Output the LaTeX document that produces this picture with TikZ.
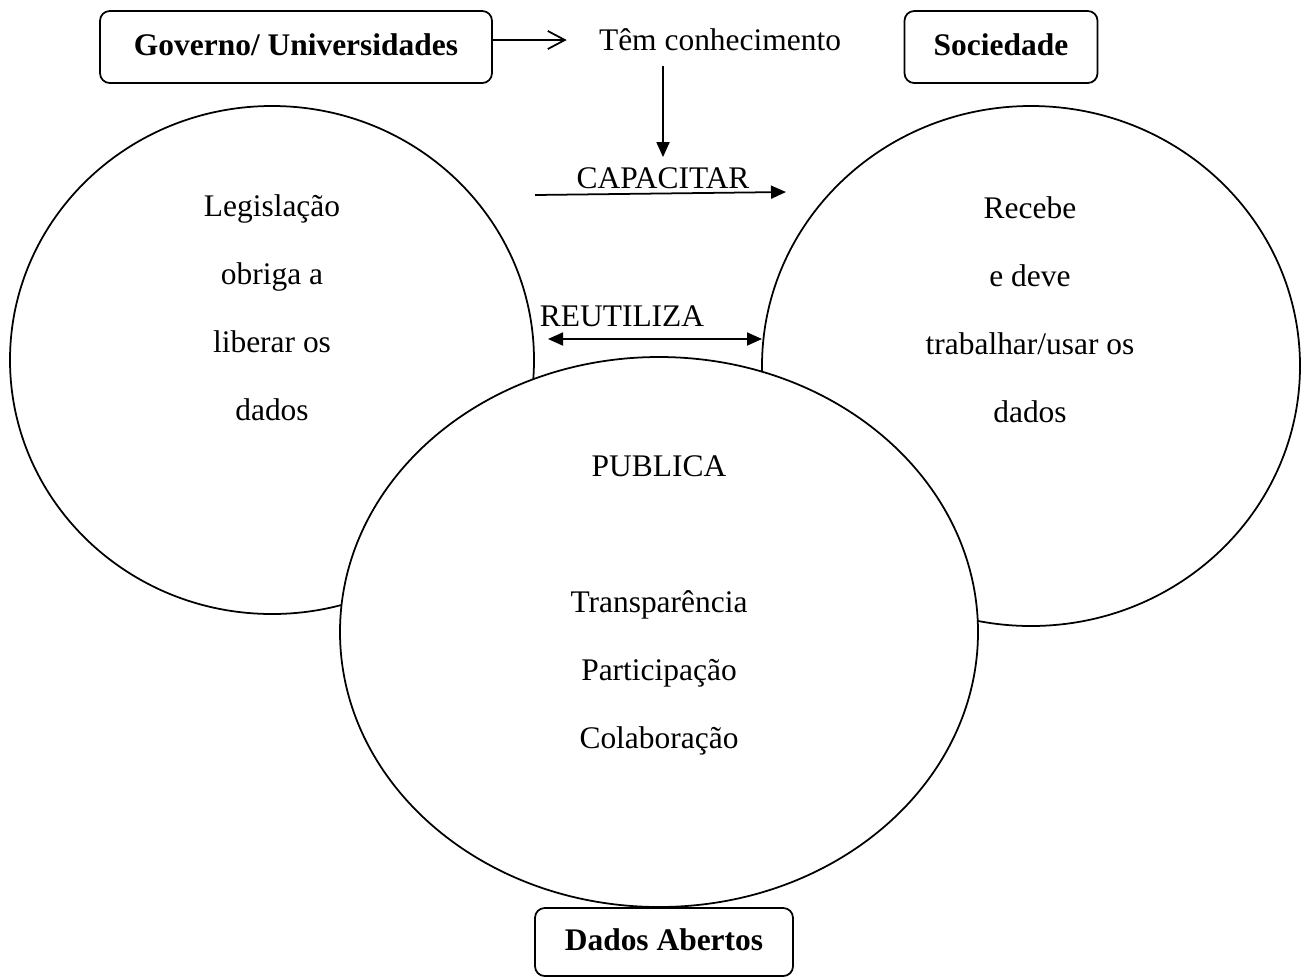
\documentclass[tikz,border=0pt]{standalone}
\usepackage{fontspec}
\setmainfont{Liberation Serif}
\usetikzlibrary{arrows.meta}

\tikzset{
	caixa/.style={draw, line width=1pt, rounded corners=5.5pt, inner sep=0pt, text height=0.44cm, text depth=0.12cm, font=\fontsize{17.9}{21}\selectfont\bfseries},
	rotulo/.style={inner sep=0pt, align=center, font=\fontsize{17.9}{38.7}\selectfont},
	seta/.style={line width=1pt, -{Triangle[length=0.3cm,width=0.26cm]}},
	setadupla/.style={line width=1pt, {Triangle[length=0.3cm,width=0.26cm]}-{Triangle[length=0.3cm,width=0.26cm]}},
	setaaberta/.style={line width=1pt, -{Straight Barb[length=0.34cm,width=0.36cm]}}
}

\begin{document}
\begin{tikzpicture}[x=0.02cm,y=-0.02cm]
				%%%%% START %%%%%
				\def\xl{272}
				\def\yl{360}
				\def\rxl{262}
				\def\ryl{254}
				\def\xr{1031}
				\def\yr{366}
				\def\rxr{269}
				\def\ryr{260}
				\def\xm{659}
				\def\ym{632}
				\def\rxm{319}
				\def\rym{275}
				
				\useasboundingbox (0,0) rectangle (1304,978);
				
				\draw[line width=1pt] (\xl,\yl) ellipse [x radius=\rxl, y radius=\ryl];
				\draw[line width=1pt] (\xr,\yr) ellipse [x radius=\rxr, y radius=\ryr];
				\draw[line width=1pt, fill=white] (\xm,\ym) ellipse [x radius=\rxm, y radius=\rym];
				
				\node[caixa, minimum width=7.84cm, minimum height=1.44cm] (gov) at (296,47) {Governo/ Universidades};
				\node[caixa, minimum width=3.86cm, minimum height=1.44cm] (soc) at (1001,47) {Sociedade};
				\node[caixa, minimum width=5.16cm, minimum height=1.36cm] (dados) at (664,942) {Dados Abertos};
				
				\node[rotulo] (tem) at (720,40) {Têm conhecimento};
				\node[rotulo] (capacitar) at (663,178) {CAPACITAR};
				\node[rotulo] (reutiliza) at (622,316) {REUTILIZA};
				
				\node[rotulo] (legtxt) at (\xl,308) {Legislação\\obriga a\\liberar os\\dados};
				\node[rotulo] (soctxt) at (1030,310) {Recebe\\e deve\\trabalhar/usar os\\dados};
				\node[rotulo] (pubtxt) at (\xm,605) {PUBLICA\\[1.36cm]Transparência\\Participação\\Colaboração};
				
				\coordinate (capini) at (535,195);
				\coordinate (capfim) at (786,192);
				\coordinate (reuini) at (548,339);
				\coordinate (reufim) at (762,339);
				
				\draw[setaaberta] (gov.east |- tem.center) -- ([xshift=-0.64cm]tem.west);
				\draw[seta, shorten >=0.2cm] ([yshift=-0.3cm]tem.south -| capacitar.north) -- (capacitar.north);
				\draw[seta] (capini) -- (capfim);
				\draw[setadupla] (reuini) -- (reufim);
				%%%%% END %%%%%
\end{tikzpicture}
\end{document}
